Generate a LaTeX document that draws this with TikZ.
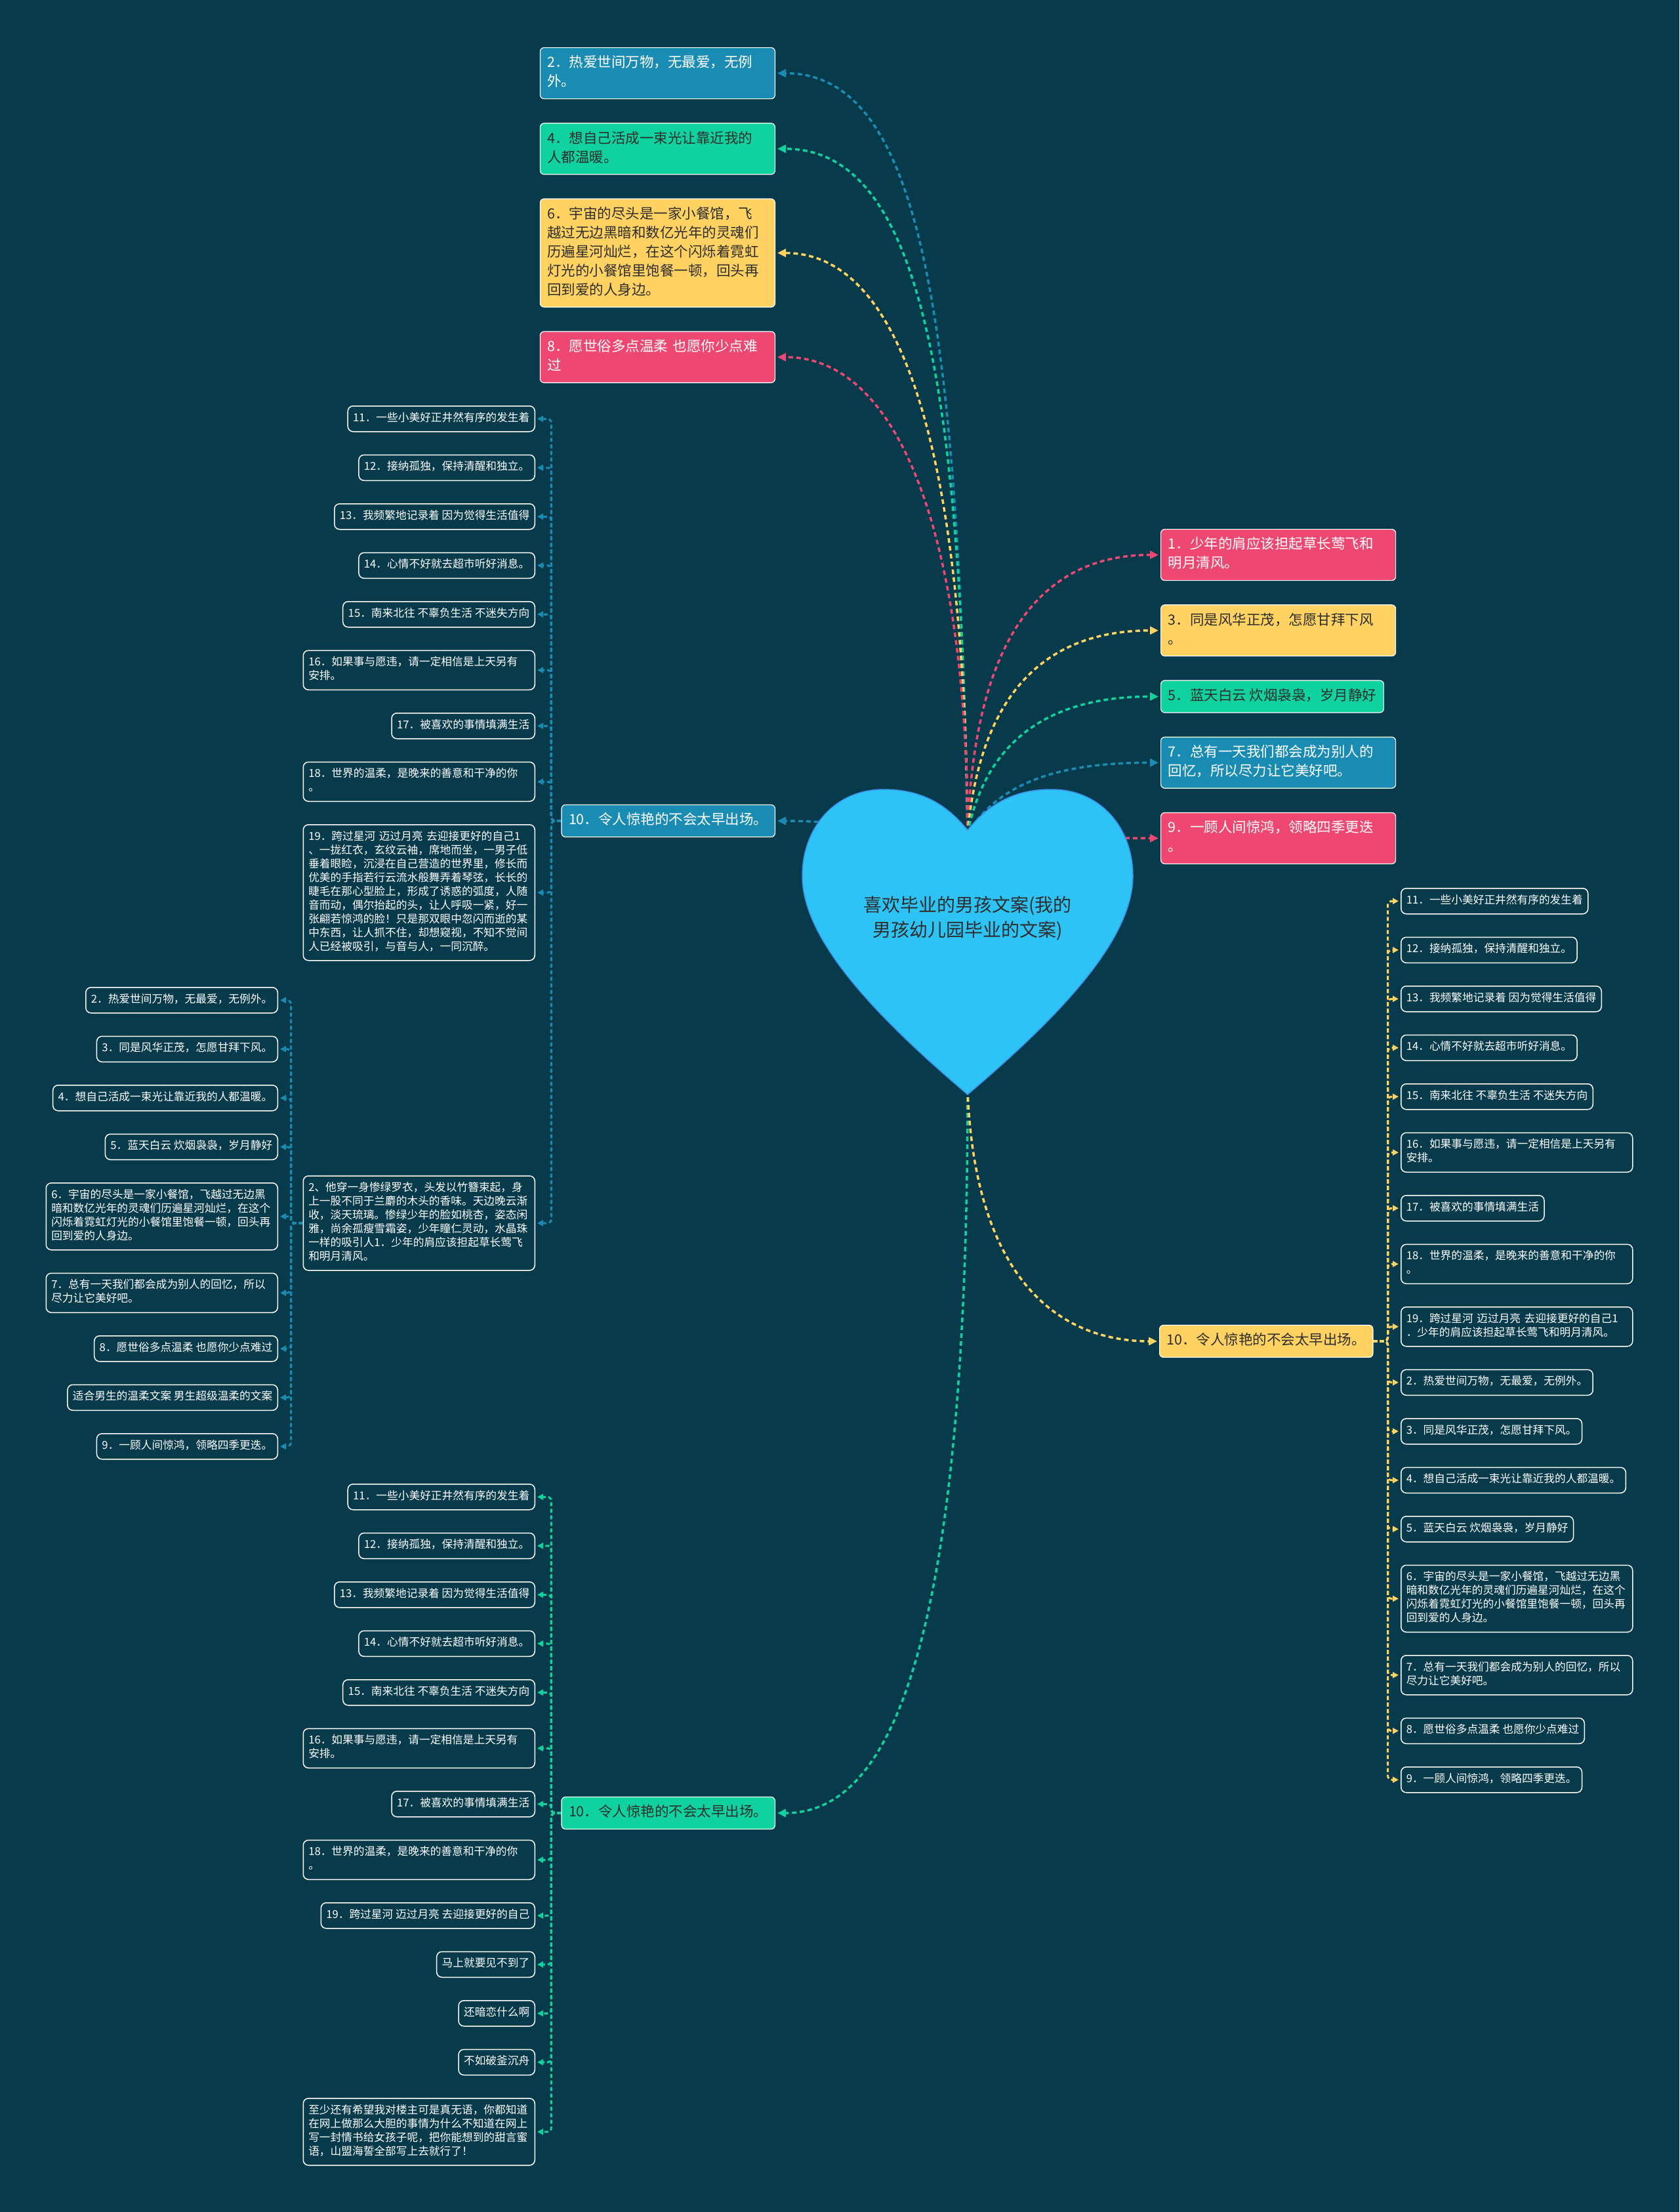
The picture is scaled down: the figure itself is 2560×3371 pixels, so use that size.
\documentclass[tikz,border=0pt]{standalone}
\usepackage{fontspec}
\setmainfont{Noto Sans CJK SC}
\usepackage{tikz}
\usetikzlibrary{arrows.meta,positioning,backgrounds}
\definecolor{bg}{HTML}{073A4B}
\definecolor{cblue}{HTML}{1A8CB4}
\definecolor{cgreen}{HTML}{10D29E}
\definecolor{cyellow}{HTML}{FFD262}
\definecolor{cpink}{HTML}{EE4771}
\definecolor{heartfill}{HTML}{2EC3F5}
\definecolor{heartline}{HTML}{3B8FE8}
\definecolor{ink}{HTML}{2D2D2D}
\tikzset{
  topic/.style={draw=white, line width=1.2pt, rounded corners=6pt, align=left, inner xsep=11pt, inner ysep=10pt,
    font=\fontsize{21.5}{29}\selectfont, execute at begin node=\strut, execute at end node=\strut},
  topicw/.style={topic, text width=336pt},
  bluebox/.style={fill=cblue, text=white},
  greenbox/.style={fill=cgreen, text=ink},
  yellowbox/.style={fill=cyellow, text=ink},
  pinkbox/.style={fill=cpink, text=white},
  leaf/.style={draw=white, line width=1.5pt, rounded corners=8pt, fill=bg, text=white, align=left, inner xsep=8pt, inner ysep=9pt,
    font=\fontsize{16.7}{21}\selectfont, execute at begin node=\strut, execute at end node=\strut},
  leafw/.style={leaf, text width=337pt},
  hublink/.style={line width=3.5pt, dash pattern=on 7pt off 5pt, -{Triangle[length=13pt,width=12pt]}, shorten >=3pt},
  sublink/.style={line width=3pt, dash pattern=on 6pt off 4pt, rounded corners=6pt, -{Triangle[length=9pt,width=9pt]}, shorten >=3pt}
}

\begin{document}
\begin{tikzpicture}[x=1pt,y=1pt]
\useasboundingbox (0,0) rectangle (2560,-3371);
\path[fill=heartfill, draw=heartline, line width=1.5pt] (1475,-1265)
  .. controls (1440,-1222) and (1400,-1203) .. (1347,-1203)
  .. controls (1272,-1203) and (1223,-1262) .. (1223,-1335)
  .. controls (1223,-1430) and (1330,-1545) .. (1475,-1668)
  .. controls (1620,-1545) and (1727,-1430) .. (1727,-1335)
  .. controls (1727,-1262) and (1678,-1203) .. (1603,-1203)
  .. controls (1550,-1203) and (1510,-1222) .. (1475,-1265) -- cycle;
\node[font=\fontsize{28}{38}\selectfont, text=ink, align=center] (root) at (1475,-1399) {喜欢毕业的男孩文案(我的\\男孩幼儿园毕业的文案)};
\coordinate (hub) at (1475,-1270);
\coordinate (tip) at (1475,-1660);

\node[topicw, bluebox, anchor=north east] (a2) at (1182,-72) {2．热爱世间万物，无最爱，无例\\外。};
\node[topicw, greenbox, below left=36pt and 0pt of a2.south east] (a4) {4．想自己活成一束光让靠近我的\\人都温暖。};
\node[topicw, yellowbox, below left=36pt and 0pt of a4.south east] (a6) {6．宇宙的尽头是一家小餐馆，飞\\越过无边黑暗和数亿光年的灵魂们\\历遍星河灿烂，在这个闪烁着霓虹\\灯光的小餐馆里饱餐一顿，回头再\\回到爱的人身边。};
\node[topicw, pinkbox, below left=36pt and 0pt of a6.south east] (a8) {8．愿世俗多点温柔 也愿你少点难\\过};

\node[topicw, pinkbox, anchor=north west] (r1) at (1769,-806) {1．少年的肩应该担起草长莺飞和\\明月清风。};
\node[topicw, yellowbox, below right=36pt and 0pt of r1.south west] (r3) {3．同是风华正茂，怎愿甘拜下风\\。};
\node[topic, greenbox, below right=36pt and 0pt of r3.south west] (r5) {5．蓝天白云 炊烟袅袅，岁月静好};
\node[topicw, bluebox, below right=36pt and 0pt of r5.south west] (r7) {7．总有一天我们都会成为别人的\\回忆，所以尽力让它美好吧。};
\node[topicw, pinkbox, below right=36pt and 0pt of r7.south west] (r9) {9．一顾人间惊鸿，领略四季更迭\\。};

\node[topic, bluebox, anchor=east] (ten) at (1182,-1251) {10．令人惊艳的不会太早出场。};
\node[topic, greenbox, anchor=east] (tenl) at (1182,-2763) {10．令人惊艳的不会太早出场。};
\node[topic, yellowbox, anchor=west] (tenr) at (1767,-2044) {10．令人惊艳的不会太早出场。};

\node[leaf, anchor=north east] (c11) at (816,-618) {11．一些小美好正井然有序的发生着};
\node[leaf, below left=34pt and 0pt of c11.south east] (c12) {12．接纳孤独，保持清醒和独立。};
\node[leaf, below left=34pt and 0pt of c12.south east] (c13) {13．我频繁地记录着 因为觉得生活值得};
\node[leaf, below left=34pt and 0pt of c13.south east] (c14) {14．心情不好就去超市听好消息。};
\node[leaf, below left=34pt and 0pt of c14.south east] (c15) {15．南来北往 不辜负生活 不迷失方向};
\node[leafw, below left=34pt and 0pt of c15.south east] (c16) {16．如果事与愿违，请一定相信是上天另有\\安排。};
\node[leaf, below left=34pt and 0pt of c16.south east] (c17) {17．被喜欢的事情填满生活};
\node[leafw, below left=34pt and 0pt of c17.south east] (c18) {18．世界的温柔，是晚来的善意和干净的你\\。};
\node[leafw, below left=34pt and 0pt of c18.south east] (c19) {19．跨过星河 迈过月亮 去迎接更好的自己1\\、一拢红衣，玄纹云袖，席地而坐，一男子低\\垂着眼睑，沉浸在自己营造的世界里，修长而\\优美的手指若行云流水般舞弄着琴弦，长长的\\睫毛在那心型脸上，形成了诱惑的弧度，人随\\音而动，偶尔抬起的头，让人呼吸一紧，好一\\张翩若惊鸿的脸！只是那双眼中忽闪而逝的某\\中东西，让人抓不住，却想窥视，不知不觉间\\人已经被吸引，与音与人，一同沉醉。};
\node[leafw, anchor=east] (cb2) at (816,-1864) {2、他穿一身惨绿罗衣，头发以竹簪束起，身\\上一股不同于兰麝的木头的香味。天边晚云渐\\收，淡天琉璃。惨绿少年的脸如桃杏，姿态闲\\雅，尚余孤瘦雪霜姿，少年瞳仁灵动，水晶珠\\一样的吸引人1．少年的肩应该担起草长莺飞\\和明月清风。};

\node[leaf, anchor=north east] (f2) at (424,-1504) {2．热爱世间万物，无最爱，无例外。};
\node[leaf, below left=34pt and 0pt of f2.south east] (f3) {3．同是风华正茂，怎愿甘拜下风。};
\node[leaf, below left=34pt and 0pt of f3.south east] (f4) {4．想自己活成一束光让靠近我的人都温暖。};
\node[leaf, below left=34pt and 0pt of f4.south east] (f5) {5．蓝天白云 炊烟袅袅，岁月静好};
\node[leafw, below left=34pt and 0pt of f5.south east] (f6) {6．宇宙的尽头是一家小餐馆，飞越过无边黑\\暗和数亿光年的灵魂们历遍星河灿烂，在这个\\闪烁着霓虹灯光的小餐馆里饱餐一顿，回头再\\回到爱的人身边。};
\node[leafw, below left=34pt and 0pt of f6.south east] (f7) {7．总有一天我们都会成为别人的回忆，所以\\尽力让它美好吧。};
\node[leaf, below left=34pt and 0pt of f7.south east] (f8) {8．愿世俗多点温柔 也愿你少点难过};
\node[leaf, below left=34pt and 0pt of f8.south east] (fx) {适合男生的温柔文案 男生超级温柔的文案};
\node[leaf, below left=34pt and 0pt of fx.south east] (f9) {9．一顾人间惊鸿，领略四季更迭。};

\node[leaf, anchor=north east] (d11) at (816,-2261) {11．一些小美好正井然有序的发生着};
\node[leaf, below left=34pt and 0pt of d11.south east] (d12) {12．接纳孤独，保持清醒和独立。};
\node[leaf, below left=34pt and 0pt of d12.south east] (d13) {13．我频繁地记录着 因为觉得生活值得};
\node[leaf, below left=34pt and 0pt of d13.south east] (d14) {14．心情不好就去超市听好消息。};
\node[leaf, below left=34pt and 0pt of d14.south east] (d15) {15．南来北往 不辜负生活 不迷失方向};
\node[leafw, below left=34pt and 0pt of d15.south east] (d16) {16．如果事与愿违，请一定相信是上天另有\\安排。};
\node[leaf, below left=34pt and 0pt of d16.south east] (d17) {17．被喜欢的事情填满生活};
\node[leafw, below left=34pt and 0pt of d17.south east] (d18) {18．世界的温柔，是晚来的善意和干净的你\\。};
\node[leaf, below left=34pt and 0pt of d18.south east] (d19) {19．跨过星河 迈过月亮 去迎接更好的自己};
\node[leaf, below left=34pt and 0pt of d19.south east] (dm) {马上就要见不到了};
\node[leaf, below left=34pt and 0pt of dm.south east] (dh) {还暗恋什么啊};
\node[leaf, below left=34pt and 0pt of dh.south east] (db) {不如破釜沉舟};
\node[leafw, below left=34pt and 0pt of db.south east] (dz) {至少还有希望我对楼主可是真无语，你都知道\\在网上做那么大胆的事情为什么不知道在网上\\写一封情书给女孩子呢，把你能想到的甜言蜜\\语，山盟海誓全部写上去就行了！};

\node[leaf, anchor=north west] (e11) at (2135,-1353) {11．一些小美好正井然有序的发生着};
\node[leaf, below right=34pt and 0pt of e11.south west] (e12) {12．接纳孤独，保持清醒和独立。};
\node[leaf, below right=34pt and 0pt of e12.south west] (e13) {13．我频繁地记录着 因为觉得生活值得};
\node[leaf, below right=34pt and 0pt of e13.south west] (e14) {14．心情不好就去超市听好消息。};
\node[leaf, below right=34pt and 0pt of e14.south west] (e15) {15．南来北往 不辜负生活 不迷失方向};
\node[leafw, below right=34pt and 0pt of e15.south west] (e16) {16．如果事与愿违，请一定相信是上天另有\\安排。};
\node[leaf, below right=34pt and 0pt of e16.south west] (e17) {17．被喜欢的事情填满生活};
\node[leafw, below right=34pt and 0pt of e17.south west] (e18) {18．世界的温柔，是晚来的善意和干净的你\\。};
\node[leafw, below right=34pt and 0pt of e18.south west] (e19) {19．跨过星河 迈过月亮 去迎接更好的自己1\\．少年的肩应该担起草长莺飞和明月清风。};
\node[leaf, below right=34pt and 0pt of e19.south west] (e2) {2．热爱世间万物，无最爱，无例外。};
\node[leaf, below right=34pt and 0pt of e2.south west] (e3) {3．同是风华正茂，怎愿甘拜下风。};
\node[leaf, below right=34pt and 0pt of e3.south west] (e4) {4．想自己活成一束光让靠近我的人都温暖。};
\node[leaf, below right=34pt and 0pt of e4.south west] (e5) {5．蓝天白云 炊烟袅袅，岁月静好};
\node[leafw, below right=34pt and 0pt of e5.south west] (e6) {6．宇宙的尽头是一家小餐馆，飞越过无边黑\\暗和数亿光年的灵魂们历遍星河灿烂，在这个\\闪烁着霓虹灯光的小餐馆里饱餐一顿，回头再\\回到爱的人身边。};
\node[leafw, below right=34pt and 0pt of e6.south west] (e7) {7．总有一天我们都会成为别人的回忆，所以\\尽力让它美好吧。};
\node[leaf, below right=34pt and 0pt of e7.south west] (e8) {8．愿世俗多点温柔 也愿你少点难过};
\node[leaf, below right=34pt and 0pt of e8.south west] (e9) {9．一顾人间惊鸿，领略四季更迭。};

\begin{scope}[on background layer]
\fill[bg] (0,0) rectangle (2560,-3371);
\end{scope}
\begin{scope}[on background layer]
\draw[hublink, cblue] (hub) .. controls +(-15,800) and +(220,0) .. (a2.east);
\draw[hublink, cgreen] (hub) .. controls +(-10,690) and +(220,0) .. (a4.east);
\draw[hublink, cyellow] (hub) .. controls +(-5,560) and +(200,0) .. (a6.east);
\draw[hublink, cpink] (hub) .. controls +(0,420) and +(200,0) .. (a8.east);
\draw[hublink, cpink] (hub) .. controls +(10,300) and +(-180,0) .. (r1.west);
\draw[hublink, cyellow] (hub) .. controls +(20,220) and +(-170,0) .. (r3.west);
\draw[hublink, cgreen] (hub) .. controls +(30,150) and +(-160,0) .. (r5.west);
\draw[hublink, cblue] (hub) .. controls +(50,80) and +(-150,0) .. (r7.west);
\draw[hublink, cpink] (hub) .. controls +(120,0) and +(-120,0) .. (r9.west);
\draw[hublink, cblue] (hub) .. controls +(-120,0) and +(120,0) .. (ten.east);
\draw[hublink, cgreen] (tip) .. controls +(0,-900) and +(160,0) .. (tenl.east);
\draw[hublink, cyellow] (tip) .. controls +(10,-280) and +(-160,0) .. (tenr.west);
\foreach \n in {c11,c12,c13,c14,c15,c16,c17,c18,c19,cb2}
  \draw[sublink, cblue] (ten.west) -- ++(-15,0) |- (\n.east);
\foreach \n in {f2,f3,f4,f5,f6,f7,f8,fx,f9}
  \draw[sublink, cblue] (cb2.west) -- ++(-18,0) |- (\n.east);
\foreach \n in {d11,d12,d13,d14,d15,d16,d17,d18,d19,dm,dh,db,dz}
  \draw[sublink, cgreen] (tenl.west) -- ++(-15,0) |- (\n.east);
\foreach \n in {e11,e12,e13,e14,e15,e16,e17,e18,e19,e2,e3,e4,e5,e6,e7,e8,e9}
  \draw[sublink, cyellow] (tenr.east) -- ++(22,0) |- (\n.west);
\end{scope}
\end{tikzpicture}
\end{document}
